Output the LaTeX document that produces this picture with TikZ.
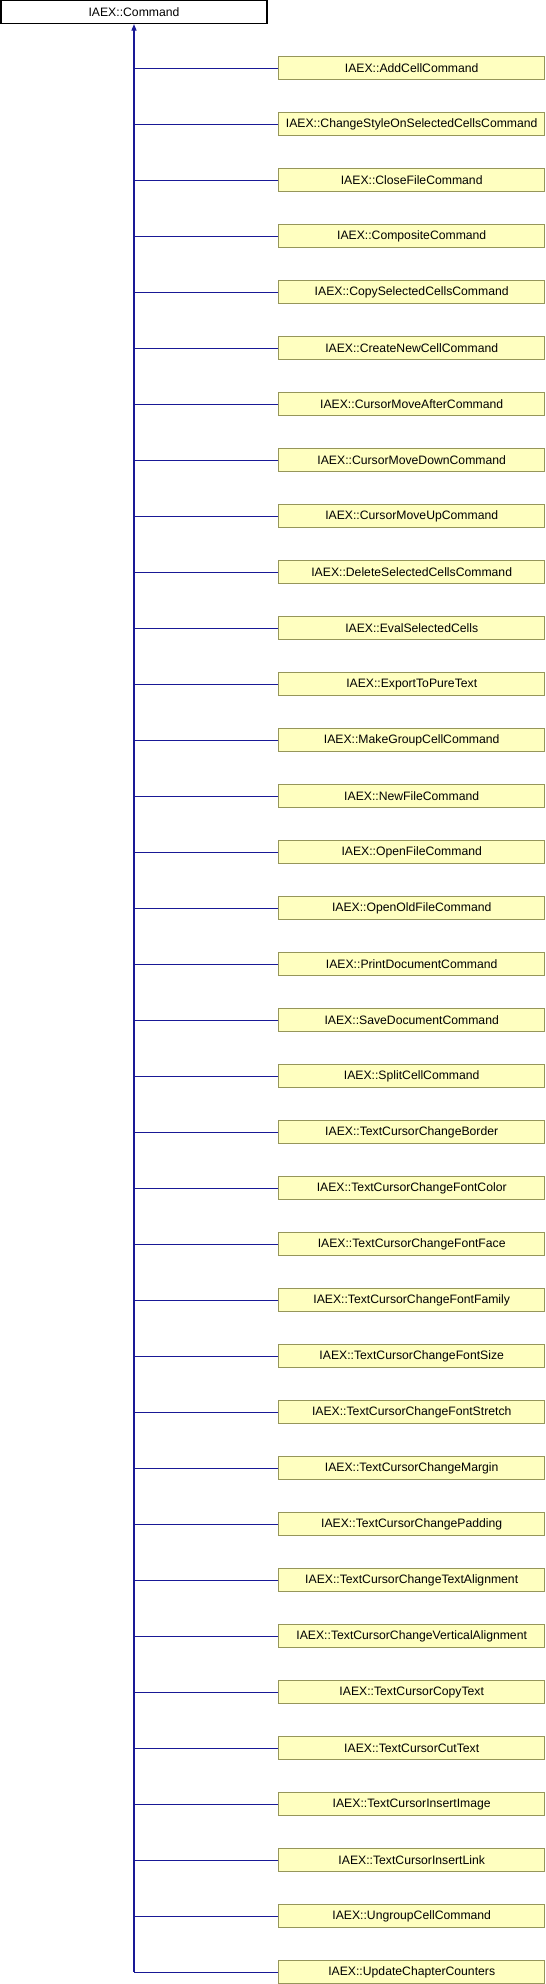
\documentclass[tikz,border=0pt]{standalone}
\usepackage{fontspec}
\setmainfont{Liberation Sans}
\usetikzlibrary{arrows.meta}
\definecolor{edgeblue}{RGB}{25,25,150}
\definecolor{boxfill}{RGB}{255,255,192}
\definecolor{boxdraw}{RGB}{150,150,90}
\tikzset{
  classbox/.style={draw=boxdraw, fill=boxfill, line width=1.2pt, minimum width=266pt, minimum height=23pt, inner sep=0pt, font=\fontsize{12.2pt}{14pt}\selectfont},
  rootbox/.style={draw=black, fill=white, line width=1.2pt, minimum width=266pt, minimum height=23pt, inner sep=0pt, font=\fontsize{12.2pt}{14pt}\selectfont},
  inherit/.style={draw=edgeblue, line width=1.2pt},
}
\begin{document}
\begin{tikzpicture}[x=1pt,y=-1pt]
\useasboundingbox (0,0) rectangle (546,1984);
\node[rootbox] (cmd) at (134,12) {IAEX::Command};
\foreach \name [count=\i from 0] in {
AddCellCommand,ChangeStyleOnSelectedCellsCommand,CloseFileCommand,CompositeCommand,
CopySelectedCellsCommand,CreateNewCellCommand,CursorMoveAfterCommand,CursorMoveDownCommand,
CursorMoveUpCommand,DeleteSelectedCellsCommand,EvalSelectedCells,ExportToPureText,
MakeGroupCellCommand,NewFileCommand,OpenFileCommand,OpenOldFileCommand,
PrintDocumentCommand,SaveDocumentCommand,SplitCellCommand,TextCursorChangeBorder,
TextCursorChangeFontColor,TextCursorChangeFontFace,TextCursorChangeFontFamily,TextCursorChangeFontSize,
TextCursorChangeFontStretch,TextCursorChangeMargin,TextCursorChangePadding,TextCursorChangeTextAlignment,
TextCursorChangeVerticalAlignment,TextCursorCopyText,TextCursorCutText,TextCursorInsertImage,
TextCursorInsertLink,UngroupCellCommand,UpdateChapterCounters}{
  \node[classbox] (n\i) at (411.7,{68.2+56*\i}) {IAEX::\name};
  \coordinate (j\i) at (134,{68.2+56*\i});
  \draw[inherit] (j\i) -- (n\i.west);
}
\draw[inherit,-{Triangle[width=5pt,length=6.5pt]}] (j34) -- (cmd.south);
\end{tikzpicture}
\end{document}
